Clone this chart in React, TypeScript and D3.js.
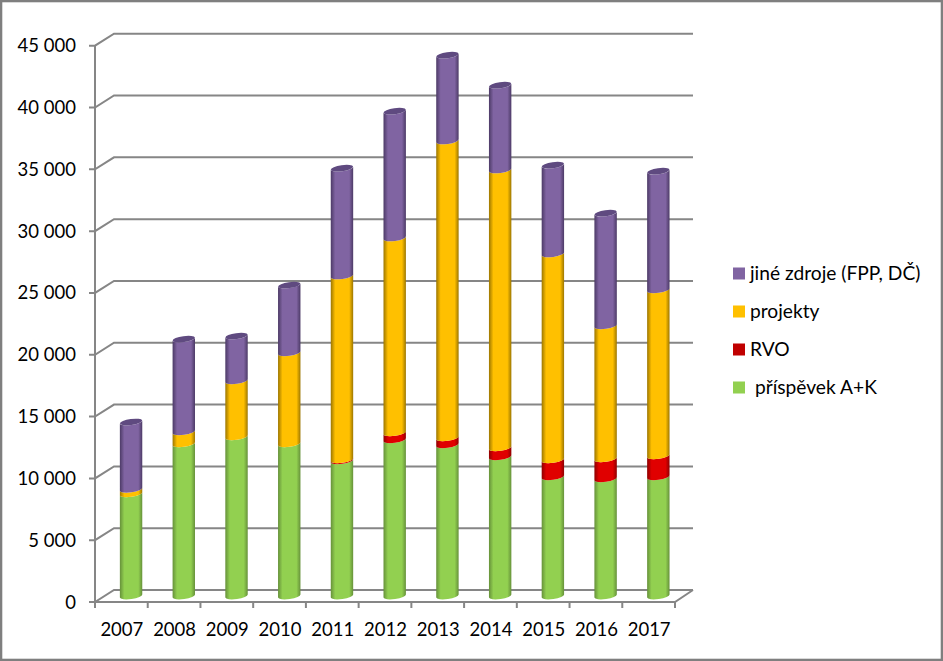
import React from "react";
import * as d3 from "d3";

const years = ["2007","2008","2009","2010","2011","2012","2013","2014","2015","2016","2017"];
const prispevek = [8267,12310,12876,12310,10935,12633,12229,11259,9642,9480,9642];
const rvo = [0,0,0,0,80,566,566,728,1375,1617,1698];
const projekty = [364,970,4528,7358,14878,15768,24016,22479,16657,10754,13423];
const jine = [5439,7501,3620,5479,8714,10250,6935,6854,7177,9118,9603];
const yTicks = [0,5000,10000,15000,20000,25000,30000,35000,40000,45000];
const seriesKeys = ["prispevek","rvo","projekty","jine"];
const seriesColors = ["#92d050","#e00000","#ffc000","#8064a2"];
const edgeColors = ["#66913a","#8e0000","#9c7600","#4c3a66"];
const legendLabels = [
  { text: "jiné zdroje (FPP, DČ)", color: "#8064a2" },
  { text: "projekty", color: "#ffc000" },
  { text: "RVO", color: "#c00000" },
  { text: " příspěvek A+K", color: "#92d050" },
];

const W = 943, H = 661;
const FONT = "Lato, 'Open Sans', sans-serif";
const GRID = "#868686";
const dx = 18, dy = 12;
const yFront = d3.scaleLinear().domain([0,45000]).range([602,45.7]);
const xBand = d3.scaleBand().domain(years).range([95,675]).padding(0);
const barOffsetY = 6;
const yBar = (v: number) => yFront(v) - barOffsetY;
const rx = 11.2, ry = 3, tiltY = 1.6;

const rows = years.map((y,i)=>({year:y,prispevek:prispevek[i],rvo:rvo[i],projekty:projekty[i],jine:jine[i]}));
const stacked = d3.stack<any>().keys(seriesKeys)(rows);

function segPath(cx: number, yTop: number, yBot: number) {
  const a = `A${rx} ${ry} -8 0 0`;
  const b = `A${rx} ${ry} -8 0 1`;
  return `M${cx-rx} ${yTop+tiltY}${a} ${cx+rx} ${yTop-tiltY}L${cx+rx} ${yBot-tiltY}${b} ${cx-rx} ${yBot+tiltY}Z`;
}

export default function App() {
  return (
    <svg width={W} height={H} viewBox={`0 0 ${W} ${H}`} style={{position:"absolute",left:0,top:0,background:"#fff"}} fontFamily={FONT}>
      <defs>
        {seriesKeys.map((k,i)=>(
          <linearGradient key={k} id={`g-${k}`} x1="0" x2="1" y1="0" y2="0">
            <stop offset="0" stopColor={edgeColors[i]} />
            <stop offset="0.2" stopColor={seriesColors[i]} />
            <stop offset="0.82" stopColor={seriesColors[i]} />
            <stop offset="1" stopColor={edgeColors[i]} />
          </linearGradient>
        ))}
      </defs>
      <rect x={1} y={1} width={W-2} height={H-2} fill="#fff" stroke="#7f7f7f" strokeWidth={2.6} />

      {yTicks.map(t=>{
        const y = yFront(t);
        return (
          <g key={t}>
            <path d={`M89 ${y}L95 ${y}L${95+dx+1} ${y-dy}L693 ${y-dy}`} fill="none" stroke={GRID} strokeWidth={2} />
            <text x={76} y={y+6.5} textAnchor="end" fontSize={18.5} fill="#000">{d3.format(",")(t).replace(/,/g," ")}</text>
          </g>
        );
      })}
      <line x1={95} x2={95} y1={yFront(45000)} y2={yFront(0)} stroke={GRID} strokeWidth={2} />
      <path d={`M95 ${yFront(0)}L675 ${yFront(0)}L693 ${yFront(0)-dy}`} fill="none" stroke={GRID} strokeWidth={2} />
      {[...years.map(y=>xBand(y) as number),675].map(x=>(
        <line key={x} x1={x} x2={x} y1={yFront(0)} y2={yFront(0)+6} stroke={GRID} strokeWidth={2} />
      ))}

      {years.map((yr,i)=>{
        const cx = (xBand(yr) as number) + xBand.bandwidth()/2 + 9.7;
        const topY = yBar(stacked[3][i][1]);
        return (
          <g key={yr}>
            {stacked.map((s)=>{
              const [a,b] = s[i];
              if (b-a <= 0) return null;
              return <path key={s.key} d={segPath(cx,yBar(b),yBar(a))} fill={`url(#g-${s.key})`} />;
            })}
            <ellipse cx={cx} cy={topY} rx={rx} ry={ry} transform={`rotate(-8 ${cx} ${topY})`} fill="#5f4a80" />
            <text x={(xBand(yr) as number)+xBand.bandwidth()/2 + 0.5} y={636} textAnchor="middle" fontSize={18.5} fill="#000">{yr}</text>
          </g>
        );
      })}

      {legendLabels.map((l,i)=>{
        const y = 273.5 + i*38;
        return (
          <g key={l.text}>
            <rect x={733} y={y-6} width={12} height={12} fill={l.color} />
            <text x={750} y={y+6} fontSize={19.2} fill="#000" style={{whiteSpace:"pre"}}>{l.text}</text>
          </g>
        );
      })}
    </svg>
  );
}
